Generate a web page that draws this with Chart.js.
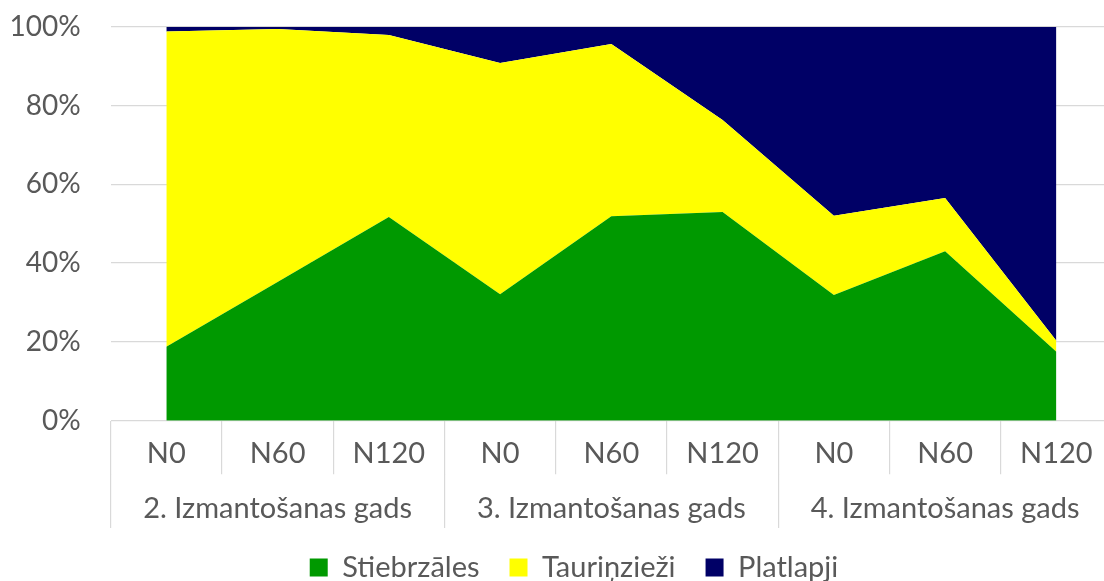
<!DOCTYPE html>
<html>
<head>
<meta charset="utf-8">
<script src="https://cdn.jsdelivr.net/npm/chart.js@4.4.1/dist/chart.umd.min.js"></script>
<style>
  html, body { margin: 0; padding: 0; background: #ffffff; overflow: hidden; }
  #wrap { position: absolute; left: 0; top: 0; width: 1148px; height: 592px; }
</style>
</head>
<body>
<div id="wrap"><canvas id="chart"></canvas></div>
<script>
// Treatment labels along the x axis, grouped by year of use
const treatments = ['N0', 'N60', 'N120', 'N0', 'N60', 'N120', 'N0', 'N60', 'N120'];
const years = ['2. Izmantošanas gads', '3. Izmantošanas gads', '4. Izmantošanas gads'];

// Share of each plant group, %
const stiebrzales = [18.8, 35.2, 51.7, 32.1, 51.9, 53.0, 31.9, 43.0, 17.5];
const taurinziezi = [80.0, 64.2, 46.2, 58.7, 43.7, 23.3, 20.1, 13.5, 2.8];
const platlapji   = [1.2, 0.6, 2.1, 9.2, 4.4, 23.7, 48.0, 43.5, 79.7];

const yTicks = [0, 20, 40, 60, 80, 100];

const FONT = 'Lato, "Open Sans", sans-serif';
const TEXT = '#595959';
const GRID = '#d9d9d9';

function area(label, data, color, fill) {
  return {
    label, data, fill,
    backgroundColor: color,
    borderColor: color,
    borderWidth: 0,
    pointRadius: 0,
    tension: 0
  };
}

new Chart(document.getElementById('chart'), {
  type: 'line',
  data: {
    labels: treatments,
    datasets: [
      area('Stiebrzāles', stiebrzales, '#009900', 'origin'),
      area('Tauriņzieži', taurinziezi, '#ffff00', '-1'),
      area('Platlapji', platlapji, '#000066', '-1')
    ]
  },
  options: {
    responsive: true,
    maintainAspectRatio: false,
    animation: false,
    events: [],
    layout: { padding: { top: 26.7, left: 0, right: 0, bottom: 0 } },
    scales: {
      y: {
        stacked: true,
        min: 0,
        max: 100,
        afterBuildTicks: (s) => { s.ticks = yTicks.map(v => ({ value: v })); },
        afterFit: (s) => { s.width = 110.7; s.paddingTop = 0; s.paddingBottom = 0; },
        border: { display: false },
        grid: { color: GRID, lineWidth: 1.2, drawTicks: false },
        ticks: {
          padding: 30,
          color: TEXT,
          font: { family: FONT, size: 28 },
          callback: (v) => v + '%'
        }
      },
      // empty right-hand margin axis so the legend centres under the plot
      yRight: {
        type: 'linear',
        position: 'right',
        afterFit: (s) => { s.width = 36; s.paddingTop = 0; s.paddingBottom = 0; },
        border: { display: false },
        grid: { drawOnChartArea: false, drawTicks: false },
        ticks: { display: false }
      },
      x: {
        type: 'category',
        offset: true,
        weight: 0,
        afterFit: (s) => { s.height = 53.6; },
        border: { display: false },
        grid: { offset: true, drawOnChartArea: false, drawTicks: true, tickLength: 53.6, color: GRID, lineWidth: 1.2 },
        ticks: {
          padding: -38,
          maxRotation: 0,
          autoSkip: false,
          color: TEXT,
          font: { family: FONT, size: 29 }
        }
      },
      x2: {
        type: 'category',
        labels: years,
        position: 'bottom',
        offset: true,
        weight: 1,
        afterFit: (s) => { s.height = 48.7; },
        border: { display: false },
        grid: { offset: true, drawOnChartArea: false, drawTicks: true, tickLength: 53.7, color: GRID, lineWidth: 1.2 },
        ticks: {
          padding: -36.5,
          maxRotation: 0,
          autoSkip: false,
          color: TEXT,
          font: { family: FONT, size: 29 }
        }
      }
    },
    plugins: {
      tooltip: { enabled: false },
      legend: {
        position: 'bottom',
        labels: {
          boxWidth: 18,
          boxHeight: 18,
          padding: 30,
          color: TEXT,
          font: { family: FONT, size: 29 }
        }
      }
    }
  }
});
</script>
</body>
</html>
